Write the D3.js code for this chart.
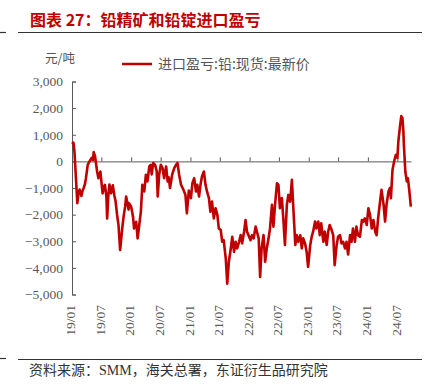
<!DOCTYPE html>
<html>
<head>
<meta charset="utf-8">
<script src="https://cdn.jsdelivr.net/npm/d3@7/dist/d3.min.js"></script>
<style>
  html, body { margin: 0; padding: 0; background: #fff; }
  svg { display: block; }
</style>
</head>
<body>
<div id="chart"></div>
<script>
// chart data: lead import profit/loss, yuan per tonne
var title = '图表 27：铅精矿和铅锭进口盈亏';
var seriesName = '进口盈亏:铅:现货:最新价';
var unitLabel = '元/吨';
var sourceParts = ['资料来源：', 'SMM', '，海关总署，东证衍生品研究院'];
var yTicks = [3000, 2000, 1000, 0, -1000, -2000, -3000, -4000, -5000];

var dates = [
  '2019-01-01', '2019-01-10', '2019-01-16', '2019-02-03', '2019-02-10', '2019-02-17', '2019-02-28',
  '2019-03-07', '2019-03-14', '2019-03-22', '2019-03-28', '2019-04-08', '2019-04-19', '2019-05-02',
  '2019-05-10', '2019-05-15', '2019-05-23', '2019-06-05', '2019-06-13', '2019-06-25', '2019-07-02',
  '2019-07-09', '2019-07-16', '2019-07-23', '2019-08-01', '2019-08-06', '2019-08-13', '2019-08-20',
  '2019-08-30', '2019-09-10', '2019-09-20', '2019-09-27', '2019-10-06', '2019-10-15', '2019-10-25',
  '2019-11-05', '2019-11-11', '2019-11-17', '2019-11-25', '2019-12-01', '2019-12-10', '2019-12-16',
  '2019-12-19', '2020-01-01', '2020-01-07', '2020-01-13', '2020-01-19', '2020-02-01', '2020-02-10',
  '2020-02-20', '2020-03-01', '2020-03-10', '2020-03-22', '2020-04-01', '2020-04-11', '2020-04-22',
  '2020-05-01', '2020-05-07', '2020-05-16', '2020-05-28', '2020-06-07', '2020-06-13', '2020-06-22',
  '2020-07-02', '2020-07-13', '2020-07-22', '2020-08-04', '2020-08-13', '2020-08-20', '2020-08-28',
  '2020-09-10', '2020-09-23', '2020-10-04', '2020-10-13', '2020-10-23', '2020-11-04', '2020-11-19',
  '2020-12-01', '2020-12-10', '2020-12-16', '2020-12-22', '2021-01-04', '2021-01-13', '2021-01-24',
  '2021-02-04', '2021-02-12', '2021-02-23', '2021-03-04', '2021-03-13', '2021-03-25', '2021-04-04',
  '2021-04-13', '2021-04-25', '2021-05-04', '2021-05-14', '2021-05-25', '2021-06-05', '2021-06-16',
  '2021-06-25', '2021-07-07', '2021-07-16', '2021-07-25', '2021-08-07', '2021-08-16', '2021-08-26',
  '2021-09-07', '2021-09-16', '2021-09-27', '2021-10-07', '2021-10-16', '2021-10-28', '2021-11-07',
  '2021-11-16', '2021-11-28', '2021-12-07', '2021-12-16', '2021-12-25', '2022-01-07', '2022-01-16',
  '2022-01-26', '2022-02-07', '2022-02-15', '2022-02-26', '2022-03-07', '2022-03-16', '2022-03-28',
  '2022-04-07', '2022-04-17', '2022-04-28', '2022-05-07', '2022-05-19', '2022-05-28', '2022-06-07',
  '2022-06-19', '2022-06-28', '2022-07-07', '2022-07-19', '2022-07-28', '2022-08-07', '2022-08-19',
  '2022-08-28', '2022-09-08', '2022-09-19', '2022-09-28', '2022-10-10', '2022-10-19', '2022-10-28',
  '2022-11-10', '2022-11-19', '2022-11-28', '2022-12-10', '2022-12-19', '2022-12-28', '2023-01-10',
  '2023-01-19', '2023-01-28', '2023-02-09', '2023-02-17', '2023-03-01', '2023-03-10', '2023-03-19',
  '2023-04-01', '2023-04-10', '2023-04-22', '2023-05-01', '2023-05-10', '2023-05-19', '2023-06-01',
  '2023-06-10', '2023-06-22', '2023-07-01', '2023-07-13', '2023-07-22', '2023-08-01', '2023-08-13',
  '2023-08-22', '2023-09-01', '2023-09-13', '2023-09-22', '2023-10-01', '2023-10-13', '2023-10-22',
  '2023-11-01', '2023-11-13', '2023-11-25', '2023-12-04', '2023-12-13', '2023-12-25', '2024-01-04',
  '2024-01-14', '2024-01-25', '2024-02-04', '2024-02-15', '2024-02-24', '2024-03-04', '2024-03-16',
  '2024-03-25', '2024-04-07', '2024-04-16', '2024-04-25', '2024-05-07', '2024-05-16', '2024-05-22',
  '2024-06-01', '2024-06-13', '2024-06-22', '2024-07-01', '2024-07-07', '2024-07-16', '2024-07-25',
  '2024-08-01', '2024-08-07', '2024-08-10', '2024-08-19', '2024-08-28', '2024-09-04', '2024-09-13',
  '2024-09-22'
];

var values = [
  650, 700, 380, -1570, -1200, -1060, -1300,
  -1100, -1000, -850, -630, -130, 0, 130,
  50, 350, 200, -380, -630, -380, -800,
  -1200, -950, -880, -1300, -2140, -1300, -870,
  -1200, -900, -1300, -1500, -2000, -2390, -3330,
  -2640, -2300, -2000, -1700, -1320, -1600, -1810,
  -1570, -1700, -1890, -2100, -2520, -2270, -2890,
  -2390, -1890, -880, -1130, -500, -750, -190,
  -130, -490, -60, -130, -380, -1320, -500,
  -125, -250, -630, -190, -750, -600, -1000,
  -500, -250, -130, -60, -500, -880, -1070,
  -1260, -1950, -1500, -1100, -1380, -820, -630,
  -1130, -880, -1320, -880, -570, -380, -880,
  -1130, -1380, -1890, -1510, -2140, -1760, -2010,
  -2520, -2580, -3020, -2960, -3650, -4590, -3770,
  -3270, -2830, -3400, -3020, -3270, -3020, -2770,
  -3080, -2640, -2200, -2640, -2770, -2960, -2770,
  -2890, -2450, -2640, -2890, -4340, -3270, -2770,
  -3770, -3270, -2890, -2520, -1630, -2450, -1630,
  -820, -880, -1760, -1380, -2140, -3140, -1630,
  -1260, -1510, -690, -1760, -3140, -2770, -3020,
  -2770, -3270, -2890, -3100, -3400, -3960, -3150,
  -2830, -2640, -2260, -2520, -2260, -2770, -2330,
  -3020, -2640, -3140, -2640, -2390, -2520, -2770,
  -3900, -3150, -2830, -2770, -3080, -3020, -3270,
  -3020, -3500, -2770, -3020, -2520, -3020, -2450,
  -2770, -2830, -2200, -2260, -2140, -2390, -1760,
  -2010, -2520, -2200, -2640, -2770, -2140, -1510,
  -1070, -1630, -2260, -1630, -1130, -1000, -1380,
  -310, 60, 250, 130, 750, 1260, 1700,
  1630, 1130, 630, -380, -750, -630, -1130,
  -1700
];

var W = 434, H = 388;
var red = '#c00000', grey = '#595959';
var cjk = '"Noto Sans CJK SC", sans-serif';
var serif = '"Liberation Serif", "Times New Roman", serif';

var parse = d3.timeParse('%Y-%m-%d');
var points = dates.map(function (d, i) { return {date: parse(d), value: values[i]}; });

var svg = d3.select('#chart').append('svg')
  .attr('width', W)
  .attr('height', H);

// header
svg.append('text')
  .attr('x', 30)
  .attr('y', 26)
  .attr('fill', red)
  .style('font-family', cjk)
  .style('font-size', '16px')
  .style('font-weight', 'bold')
  .text(title);

svg.append('line').attr('x1', 18).attr('x2', 422).attr('y1', 32.5).attr('y2', 32.5)
  .attr('stroke', '#333').attr('stroke-width', 1.2);
svg.append('line').attr('x1', 0).attr('x2', 6).attr('y1', 32.5).attr('y2', 32.5)
  .attr('stroke', '#333').attr('stroke-width', 1.2);

var x = d3.scaleTime()
  .domain([parse('2019-01-01'), parse('2024-09-23')])
  .range([72, 411]);

var y = d3.scaleLinear()
  .domain([-5000, 3000])
  .range([294.5, 81.5]);

// y axis, ticks point inward
var yAxis = d3.axisLeft(y)
  .tickValues(yTicks)
  .tickSizeInner(-4)
  .tickSizeOuter(-4)
  .tickPadding(9)
  .tickFormat(d3.format(','));

var gy = svg.append('g')
  .attr('transform', 'translate(72,0)')
  .call(yAxis);
gy.selectAll('path, line').attr('stroke', grey);
gy.selectAll('text')
  .attr('fill', grey)
  .style('font-family', serif)
  .style('font-size', '13.5px');

// zero line with upward ticks
var xTicks = d3.timeMonth.every(6);
var gx = svg.append('g')
  .attr('transform', 'translate(0,' + y(0) + ')')
  .call(d3.axisBottom(x).ticks(xTicks).tickSizeInner(-4).tickSizeOuter(0).tickFormat(''));
gx.selectAll('path, line').attr('stroke', grey);

// rotated date labels at the bottom
var fmt = d3.timeFormat('%y/%m');
svg.append('g')
  .selectAll('text')
  .data(x.ticks(xTicks))
  .enter()
  .append('text')
  .attr('transform', function (d) { return 'translate(' + (x(d) - 1.5) + ',305) rotate(-90)'; })
  .attr('dy', '0.35em')
  .attr('text-anchor', 'end')
  .attr('fill', grey)
  .style('font-family', serif)
  .style('font-size', '13.5px')
  .text(function (d) { return fmt(d); });

// unit
svg.append('text')
  .attr('x', 45)
  .attr('y', 63)
  .attr('fill', '#555')
  .style('font-family', cjk)
  .style('font-size', '12.5px')
  .text(unitLabel);

// legend
svg.append('line')
  .attr('x1', 122).attr('x2', 152).attr('y1', 64).attr('y2', 64)
  .attr('stroke', red).attr('stroke-width', 2.5);
svg.append('text')
  .attr('x', 158)
  .attr('y', 69)
  .attr('fill', '#555')
  .style('font-family', cjk)
  .style('font-size', '14px')
  .text(seriesName);

// series
var line = d3.line()
  .x(function (d) { return x(d.date); })
  .y(function (d) { return y(d.value); });

svg.append('path')
  .datum(points)
  .attr('d', line)
  .attr('fill', 'none')
  .attr('stroke', red)
  .attr('stroke-width', 2.6)
  .attr('stroke-linejoin', 'round');

// footer
svg.append('line').attr('x1', 18).attr('x2', 422).attr('y1', 359.5).attr('y2', 359.5)
  .attr('stroke', '#333').attr('stroke-width', 1.2);
svg.append('line').attr('x1', 0).attr('x2', 6).attr('y1', 358.5).attr('y2', 358.5)
  .attr('stroke', '#333').attr('stroke-width', 1.2);

var src = svg.append('text')
  .attr('x', 29)
  .attr('y', 375)
  .attr('fill', '#333')
  .style('font-family', cjk)
  .style('font-size', '14px');
src.selectAll('tspan')
  .data(sourceParts)
  .enter()
  .append('tspan')
  .style('font-family', function (d, i) { return i === 1 ? serif : cjk; })
  .text(function (d) { return d; });
</script>
</body>
</html>
